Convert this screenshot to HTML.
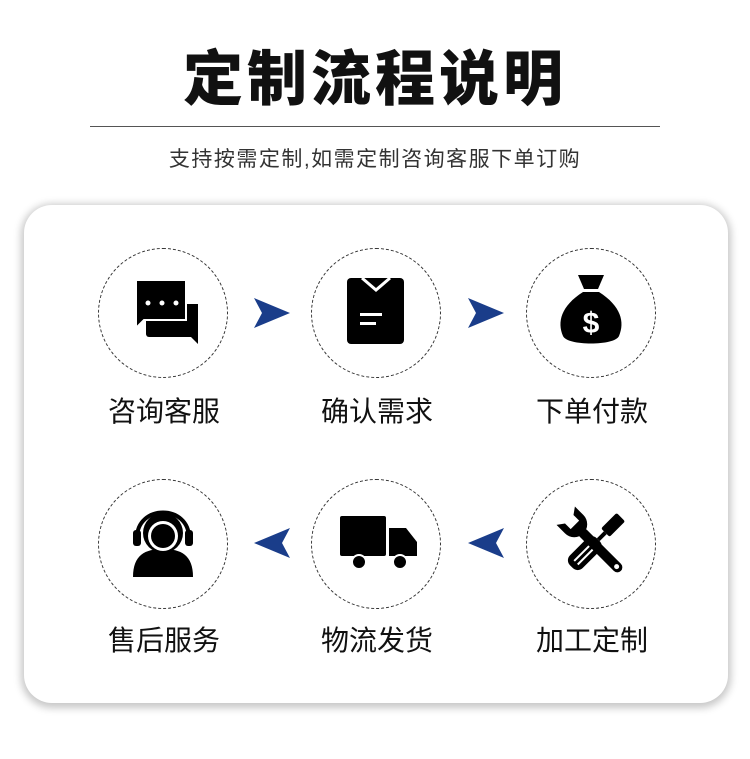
<!DOCTYPE html>
<html><head><meta charset="utf-8"><style>
body{margin:0;width:750px;height:759px;background:#fff;position:relative;overflow:hidden;font-family:"Liberation Sans","Noto Sans CJK SC",sans-serif;}
.t{position:absolute;left:0;width:750px;text-align:center;}
.card{position:absolute;left:24px;top:205px;width:704px;height:498px;background:#fff;border-radius:28px;box-shadow:0 2px 8px 3px rgba(0,0,0,0.22);}
.c{position:absolute;width:130px;height:130px;border:1.3px dashed #333;border-radius:50%;box-sizing:border-box;}
.l{position:absolute;width:200px;text-align:center;font-size:28px;color:#111;}
</style></head><body>
<div class="t" style="top:31px;font-size:60px;font-weight:900;color:#111;letter-spacing:4px;">定制流程说明</div>
<div style="position:absolute;left:90px;top:126px;width:570px;height:1px;background:#555"></div>
<div class="t" style="top:143px;font-size:21px;color:#333;letter-spacing:1.5px;">支持按需定制,如需定制咨询客服下单订购</div>
<div class="card"></div>
<div class="c" style="left:98px;top:248px"></div>
<div class="c" style="left:311px;top:248px"></div>
<div class="c" style="left:526px;top:248px"></div>
<div class="c" style="left:98px;top:479px"></div>
<div class="c" style="left:311px;top:479px"></div>
<div class="c" style="left:526px;top:479px"></div>
<div class="l" style="left:64px;top:390px">咨询客服</div>
<div class="l" style="left:277px;top:390px">确认需求</div>
<div class="l" style="left:492px;top:390px">下单付款</div>
<div class="l" style="left:64px;top:619px">售后服务</div>
<div class="l" style="left:277px;top:619px">物流发货</div>
<div class="l" style="left:492px;top:619px">加工定制</div>
<svg width="750" height="759" style="position:absolute;left:0;top:0">
<g fill="#1a3d8a">
<path d="M254,298 L290,313 L254,328 L262,313Z"/>
<path d="M468,298 L504,313 L468,328 L476,313Z"/>
<path d="M290,528 L254,543 L290,558 L282,543Z"/>
<path d="M504,528 L468,543 L504,558 L496,543Z"/>
</g>
<g fill="#000">
<rect x="146" y="291" width="40" height="46" rx="3"/>
<path d="M158,304 h40 v40 l-7,-7 h-33z"/>
<path d="M136,280 h50 v40 h-42 l-8,8z" stroke="#fff" stroke-width="2"/>
<circle cx="148" cy="303" r="2.5" fill="#fff"/><circle cx="162" cy="303" r="2.5" fill="#fff"/><circle cx="176" cy="303" r="2.5" fill="#fff"/>
<rect x="347" y="278" width="57" height="66" rx="4"/>
<path d="M362,278 l14,12 l14,-12" stroke="#fff" stroke-width="3" fill="none"/>
<rect x="360" y="313" width="22" height="3" fill="#fff"/><rect x="360" y="322" width="16" height="3" fill="#fff"/>
<path d="M578,275 h26 l-6,14 h-14z"/>
<path d="M583,292 h16 c22,14 26,30 20,44 c-4,10 -52,10 -56,0 c-6,-14 -2,-30 20,-44z"/>
<text x="591" y="333" font-size="30" font-weight="bold" fill="#fff" text-anchor="middle" font-family="Liberation Sans">$</text>
<circle cx="163" cy="533" r="20"/>
<path d="M133,577 c0,-22 12,-28 30,-28 c18,0 30,6 30,28z"/>
<path d="M137,538 c0,-34 52,-34 52,0" stroke="#000" stroke-width="4" fill="none"/>
<rect x="133" y="530" width="8" height="16" rx="3"/><rect x="185" y="530" width="8" height="16" rx="3"/>
<circle cx="163" cy="536" r="15" fill="#fff"/><circle cx="163" cy="536" r="12"/>
<rect x="340" y="516" width="46" height="40" rx="2"/>
<path d="M389,528 h17 l11,14 v14 h-28z"/>
<circle cx="359" cy="562" r="7" stroke="#fff" stroke-width="2"/><circle cx="400" cy="562" r="7" stroke="#fff" stroke-width="2"/>
<g transform="translate(594,544) rotate(45)"><rect x="-6" y="-38" width="12" height="22" rx="2"/><rect x="-2" y="-16" width="4" height="10"/><rect x="-9" y="-6" width="18" height="38" rx="7"/><rect x="-3" y="0" width="2" height="26" fill="#fff"/><rect x="2" y="0" width="2" height="26" fill="#fff"/></g>
<g transform="translate(594,544) rotate(-45)"><rect x="-5" y="-20" width="10" height="58" rx="5"/><path d="M-13,-40 v12 a13,13 0 0 0 26,0 v-12 l-7,5 v8 h-12 v-8z"/><circle cx="0" cy="32" r="2.5" fill="#fff"/></g>
</g>
</svg>
</body></html>
